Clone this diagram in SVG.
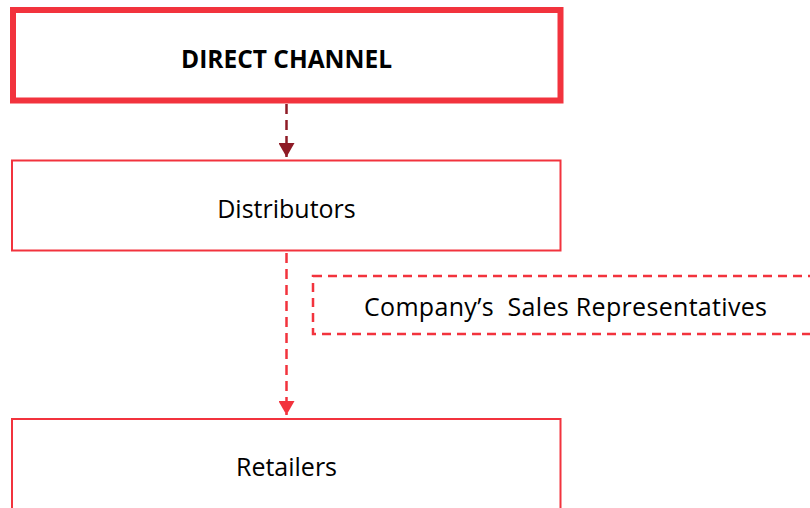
<svg xmlns="http://www.w3.org/2000/svg" width="810" height="508" viewBox="0 0 810 508">
  <style>
    .box { fill: #ffffff; stroke: #f2333d; }
    .lbl { font-family: "Open Sans", "Liberation Sans", sans-serif; font-size: 25px; fill: #000000; text-anchor: middle; white-space: pre; }
    .bold { font-weight: bold; font-size: 24.5px; }
    .dash { fill: none; stroke-width: 2.5; stroke-dasharray: 10 6; }
  </style>
  <defs>
    <!-- triangular heads drawn along +x so orient="auto" points them down the line -->
    <marker id="headDark" viewBox="0 0 14 16" refX="14" refY="8" markerWidth="14" markerHeight="16" markerUnits="userSpaceOnUse" orient="auto">
      <path d="M0 0 L14 8 L0 16 Z" fill="#8e1b26"/>
    </marker>
    <marker id="headRed" viewBox="0 0 14 16" refX="14" refY="8" markerWidth="14" markerHeight="16" markerUnits="userSpaceOnUse" orient="auto">
      <path d="M0 0 L14 8 L0 16 Z" fill="#f2333d"/>
    </marker>
  </defs>

  <rect width="810" height="508" fill="#ffffff"/>

  <g id="direct-channel">
    <rect class="box" x="13" y="10" width="547.5" height="90.5" stroke-width="6"/>
    <text class="lbl bold" x="286.5" y="68">DIRECT CHANNEL</text>
  </g>

  <g id="distributors">
    <rect class="box" x="12" y="160.5" width="548.5" height="90" stroke-width="2"/>
    <text class="lbl" x="286.5" y="217.5">Distributors</text>
  </g>

  <g id="sales-reps">
    <rect x="313" y="276" width="520" height="58" fill="none" stroke="#f2333d" stroke-width="2.5" stroke-dasharray="9 6"/>
    <text class="lbl" x="565.5" y="316" xml:space="preserve" textLength="403" lengthAdjust="spacing">Company’s  Sales Representatives</text>
  </g>

  <g id="retailers">
    <rect class="box" x="12" y="419" width="548.5" height="110" stroke-width="2"/>
    <text class="lbl" x="286.5" y="476">Retailers</text>
  </g>

  <g id="connectors">
    <path class="dash" d="M286.5 104 V157" stroke="#8e1b26" marker-end="url(#headDark)"/>
    <path class="dash" d="M286.5 253 V415" stroke="#f2333d" marker-end="url(#headRed)"/>
  </g>
</svg>
